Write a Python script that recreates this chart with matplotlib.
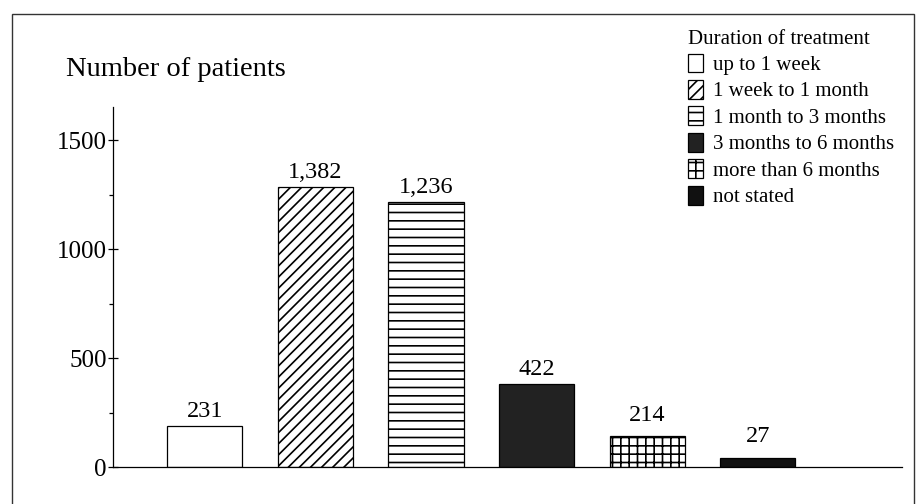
import matplotlib.pyplot as plt
from matplotlib.patches import Patch, Rectangle

plt.rcParams['font.family'] = ['Liberation Serif', 'DejaVu Serif']
plt.rcParams['hatch.linewidth'] = 1.2

# categories (duration of treatment)
durations = ['up to 1 week', '1 week to 1 month', '1 month to 3 months',
             '3 months to 6 months', 'more than 6 months', 'not stated']
# numbers printed above the bars
counts = ['231', '1,382', '1,236', '422', '214', '27']
# bar heights as drawn against the y axis (the original drawing is not to scale)
bar_heights = [189, 1284, 1216, 381, 142, 41]

hatches = ['', '///', '--', '', '++', '']
faces = ['white', 'white', 'white', '#222222', 'white', '#111111']

fig = plt.figure(figsize=(9.19, 5.04), dpi=100)
ax = fig.add_axes([0.123, 0.0734, 0.858, 0.714])

x = range(len(durations))
bars = ax.bar(x, bar_heights, width=0.68, color=faces, edgecolor='black',
              linewidth=0.9)
for b, h in zip(bars, hatches):
    b.set_hatch(h)

# the last two numbers sit a little higher above their bars
for b, c, dy in zip(bars, counts, [3, 3, 3, 3, 7, 8]):
    ax.annotate(c, (b.get_x() + b.get_width() / 2, b.get_height()),
                xytext=(0, dy), textcoords='offset points',
                ha='center', va='bottom', fontsize=17.5)

ax.set_xlim(-0.83, 6.3)
ax.set_ylim(0, 1651)
for s in ['top', 'right']:
    ax.spines[s].set_visible(False)
ax.spines['left'].set_linewidth(0.9)
ax.spines['bottom'].set_linewidth(0.9)
ax.set_xticks([])
ax.set_yticks([0, 500, 1000, 1500])
ax.set_yticks([250, 750, 1250], minor=True)
ax.tick_params(axis='y', which='major', direction='inout', length=7, width=0.9,
               labelsize=18, pad=1)
ax.tick_params(axis='y', which='minor', direction='out', length=3, width=0.9)

fig.text(0.072, 0.863, 'Number of patients', fontsize=20.5, va='center', ha='left')

handles = [Patch(facecolor=f, edgecolor='black', hatch=h, linewidth=0.9)
           for f, h in zip(faces, hatches)]
leg = fig.legend(handles, durations, title='Duration of treatment',
                 loc='upper left', bbox_to_anchor=(0.737, 0.962),
                 frameon=False, fontsize=15, title_fontsize=15,
                 handlelength=0.75, handleheight=1.0, handletextpad=0.45,
                 labelspacing=0.24, borderpad=0, alignment='left')

# frame round the whole figure
fig.add_artist(Rectangle((12 / 919, -0.02), 902 / 919, 1 - 14 / 504 + 0.02,
                         transform=fig.transFigure, fill=False,
                         edgecolor='#333333', linewidth=1))

fig.savefig('out.png', dpi=100)
